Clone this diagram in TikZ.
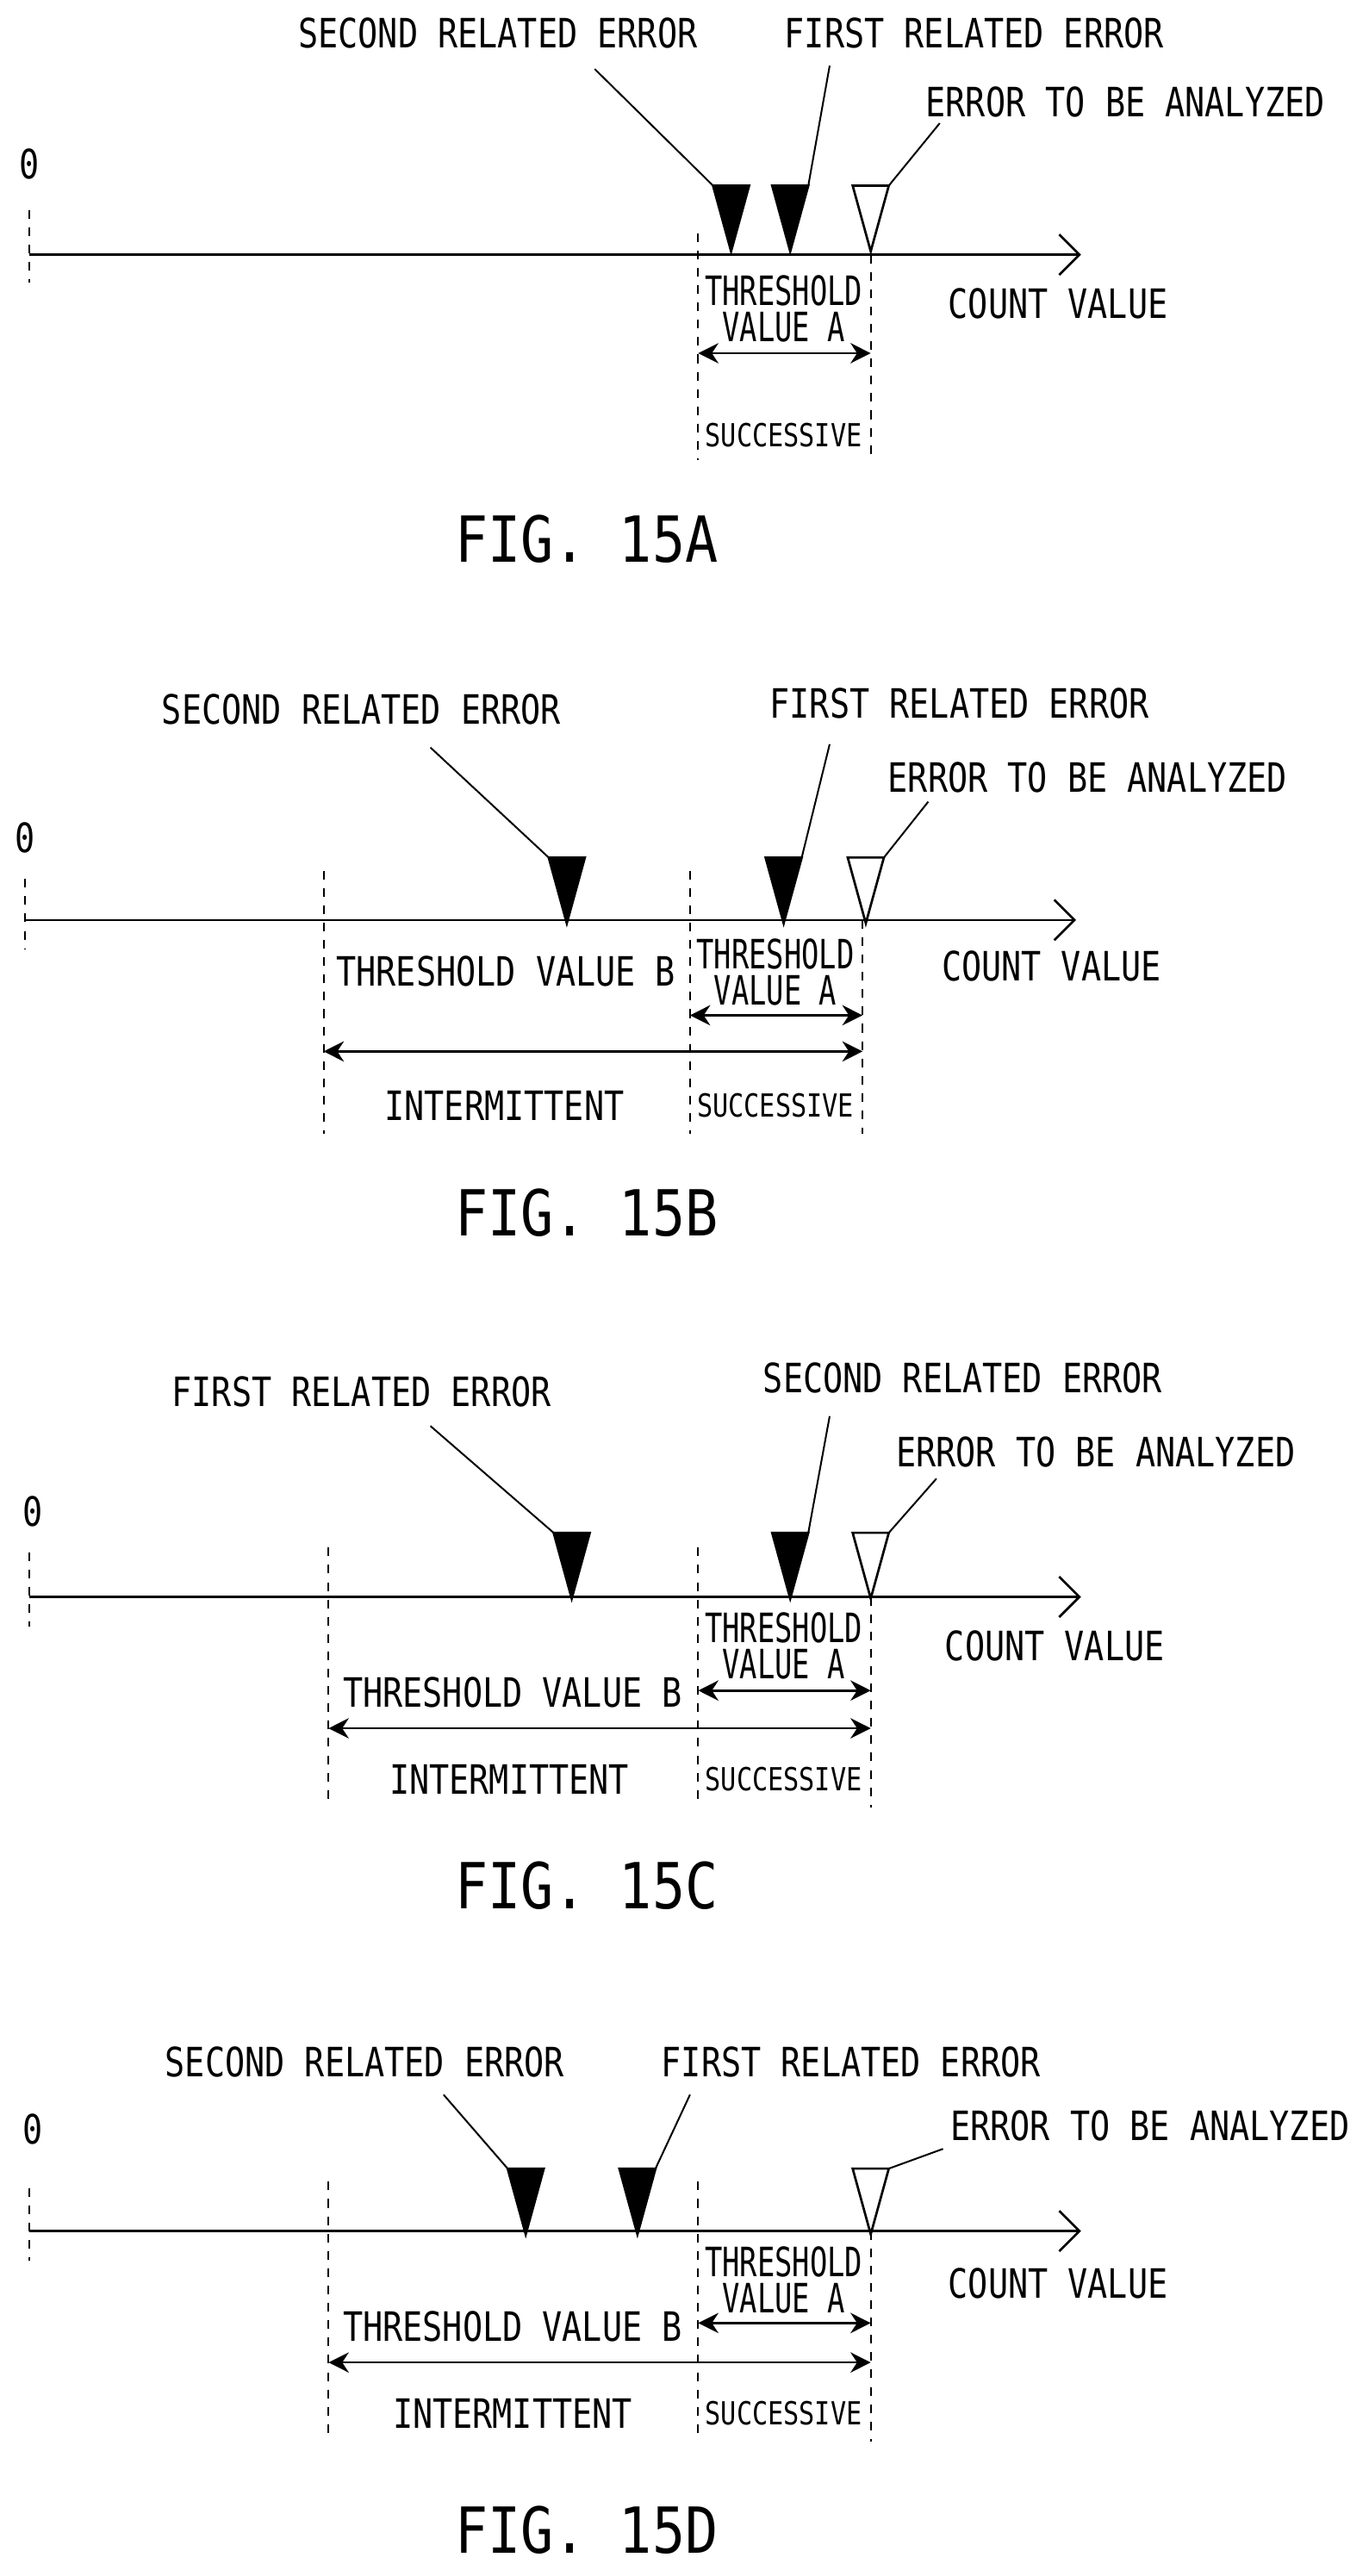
\documentclass[tikz,border=0pt]{standalone}
\usepackage{fontspec}
\setmainfont[FakeStretch=0.82]{DejaVu Sans Mono}
\newfontfamily\narrowfont[FakeStretch=0.72]{DejaVu Sans Mono}
\newfontfamily\figfont[FakeStretch=0.86]{DejaVu Sans Mono}
\usetikzlibrary{arrows.meta, calc}

% marker: name, x, top y, fill
\newcommand{\errmark}[4]{%
  \coordinate (#1l) at (#2-11,#3);
  \coordinate (#1r) at (#2+11,#3);
  \coordinate (#1) at (#2,#3+40);
  \draw[thick, fill=#4] (#1l) -- (#1r) -- (#1) -- cycle;}

\begin{document}
\begin{tikzpicture}[x=0.02cm, y=-0.02cm, >={Stealth[length=7pt,width=7pt]},
  txt/.style={font=\fontsize{14}{14}\selectfont, inner sep=0},
  thr/.style={font=\narrowfont\fontsize{14}{14}\selectfont, inner sep=0},
  tiny/.style={font=\fontsize{11}{11}\selectfont, inner sep=0},
  fig/.style={font=\figfont\fontsize{22}{22}\selectfont, inner sep=0},
  axis/.style={thick, -{Straight Barb[length=7pt,width=14pt]}},
  guide/.style={dashed, semithick},
  dim/.style={thick, <->},
  leader/.style={semithick}]
\useasboundingbox (0,0) rectangle (833,1568);

% FIG. 15A
\node[txt] (zeroA) at (18,100) {0};
\draw[guide] (18,128) -- (18,172);
\coordinate (oA) at (18,155);
\coordinate (endA) at (658,155);
\draw[axis] (oA) -- (endA);
\node[txt] (cntA) at (644,185) {COUNT VALUE};
\draw[guide] (425,142) -- (425,280);
\draw[guide] (530,155) -- (530,280);
\node[thr] (thaA) at (477,177) {THRESHOLD};
\node[thr] (vaA) at (477,199) {VALUE A};
\draw[dim] (425,215) -- (530,215);
\node[tiny] (sucA) at (477,265) {SUCCESSIVE};
\errmark{secA}{445}{113}{black}
\errmark{firA}{481}{113}{black}
\errmark{anaA}{530}{113}{white}
\node[txt] (secLA) at (303,20) {SECOND RELATED ERROR};
\node[txt] (firLA) at (593,20) {FIRST RELATED ERROR};
\node[txt] (anaLA) at (685,62) {ERROR TO BE ANALYZED};
\draw[leader] (362,42) -- (secAl);
\draw[leader] (505,40) -- (firAr);
\draw[leader] (572,75) -- (anaAr);
\node[fig] (figA) at (357,328) {FIG. 15A};

% FIG. 15B
\node[txt] (zeroB) at (15,510) {0};
\draw[guide] (15,535) -- (15,578);
\coordinate (oB) at (15,560);
\coordinate (endB) at (655,560);
\draw[axis] (oB) -- (endB);
\node[txt] (cntB) at (640,588) {COUNT VALUE};
\draw[guide] (197,530) -- (197,690);
\draw[guide] (420,530) -- (420,690);
\draw[guide] (525,560) -- (525,690);
\node[thr] (thaB) at (472,581) {THRESHOLD};
\node[thr] (vaB) at (472,603) {VALUE A};
\draw[dim] (420,618) -- (525,618);
\node[txt] (vbB) at (308,591) {THRESHOLD VALUE B};
\draw[dim] (197,640) -- (525,640);
\node[txt] (intB) at (307,673) {INTERMITTENT};
\node[tiny] (sucB) at (472,673) {SUCCESSIVE};
\errmark{secB}{345}{522}{black}
\errmark{firB}{477}{522}{black}
\errmark{anaB}{527}{522}{white}
\node[txt] (secLB) at (220,432) {SECOND RELATED ERROR};
\node[txt] (firLB) at (584,428) {FIRST RELATED ERROR};
\node[txt] (anaLB) at (662,473) {ERROR TO BE ANALYZED};
\draw[leader] (262,455) -- (secBl);
\draw[leader] (505,453) -- (firBr);
\draw[leader] (565,488) -- (anaBr);
\node[fig] (figB) at (357,738) {FIG. 15B};

% FIG. 15C
\node[txt] (zeroC) at (20,920) {0};
\draw[guide] (18,945) -- (18,990);
\coordinate (oC) at (18,972);
\coordinate (endC) at (658,972);
\draw[axis] (oC) -- (endC);
\node[txt] (cntC) at (642,1002) {COUNT VALUE};
\draw[guide] (200,942) -- (200,1100);
\draw[guide] (425,942) -- (425,1100);
\draw[guide] (530,972) -- (530,1100);
\node[thr] (thaC) at (477,991) {THRESHOLD};
\node[thr] (vaC) at (477,1013) {VALUE A};
\draw[dim] (425,1029) -- (530,1029);
\node[txt] (vbC) at (312,1030) {THRESHOLD VALUE B};
\draw[dim] (200,1052) -- (530,1052);
\node[txt] (intC) at (310,1083) {INTERMITTENT};
\node[tiny] (sucC) at (477,1083) {SUCCESSIVE};
\errmark{firC}{348}{933}{black}
\errmark{secC}{481}{933}{black}
\errmark{anaC}{530}{933}{white}
\node[txt] (firLC) at (220,847) {FIRST RELATED ERROR};
\node[txt] (secLC) at (586,839) {SECOND RELATED ERROR};
\node[txt] (anaLC) at (667,884) {ERROR TO BE ANALYZED};
\draw[leader] (262,868) -- (firCl);
\draw[leader] (505,862) -- (secCr);
\draw[leader] (570,900) -- (anaCr);
\node[fig] (figC) at (357,1148) {FIG. 15C};

% FIG. 15D
\node[txt] (zeroD) at (20,1296) {0};
\draw[guide] (18,1332) -- (18,1376);
\coordinate (oD) at (18,1358);
\coordinate (endD) at (658,1358);
\draw[axis] (oD) -- (endD);
\node[txt] (cntD) at (644,1390) {COUNT VALUE};
\draw[guide] (200,1328) -- (200,1486);
\draw[guide] (425,1328) -- (425,1486);
\draw[guide] (530,1358) -- (530,1486);
\node[thr] (thaD) at (477,1377) {THRESHOLD};
\node[thr] (vaD) at (477,1399) {VALUE A};
\draw[dim] (425,1414) -- (530,1414);
\node[txt] (vbD) at (312,1416) {THRESHOLD VALUE B};
\draw[dim] (200,1438) -- (530,1438);
\node[txt] (intD) at (312,1469) {INTERMITTENT};
\node[tiny] (sucD) at (477,1469) {SUCCESSIVE};
\errmark{secD}{320}{1320}{black}
\errmark{firD}{388}{1320}{black}
\errmark{anaD}{530}{1320}{white}
\node[txt] (secLD) at (222,1255) {SECOND RELATED ERROR};
\node[txt] (firLD) at (518,1255) {FIRST RELATED ERROR};
\node[txt] (anaLD) at (700,1294) {ERROR TO BE ANALYZED};
\draw[leader] (270,1275) -- (secDl);
\draw[leader] (420,1275) -- (firDr);
\draw[leader] (574,1308) -- (anaDr);
\node[fig] (figD) at (357,1540) {FIG. 15D};
\end{tikzpicture}
\end{document}
